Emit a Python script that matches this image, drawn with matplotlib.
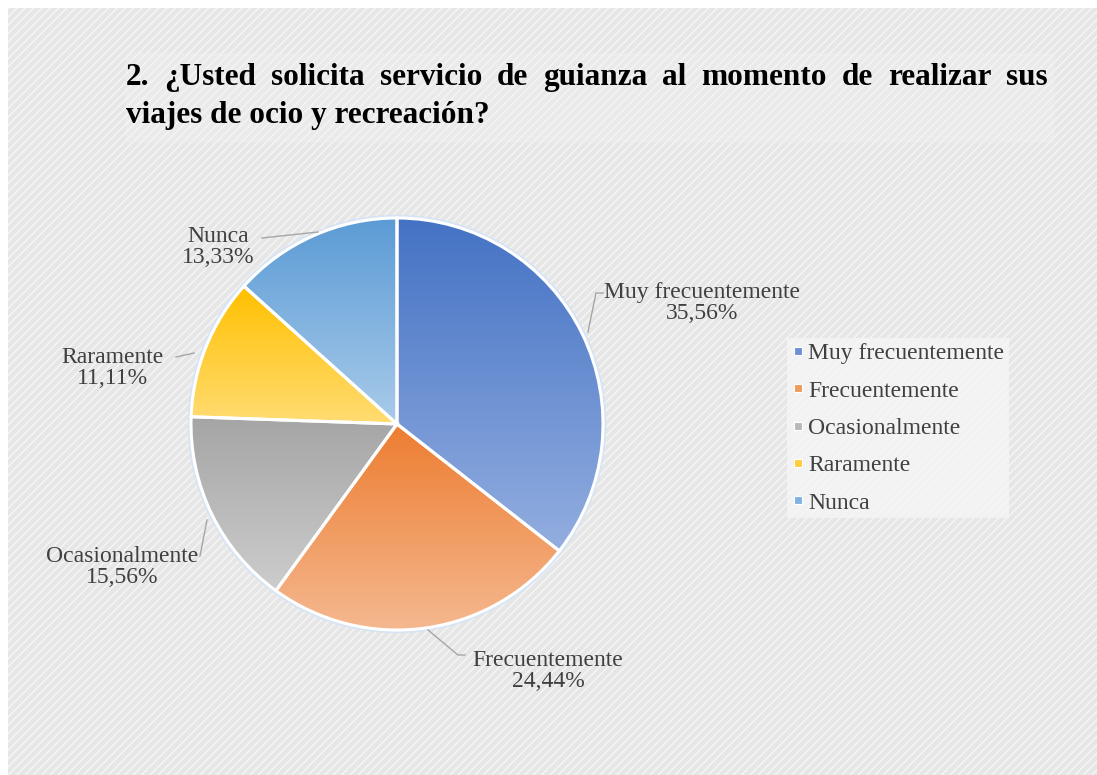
import numpy as np
import matplotlib.pyplot as plt
from matplotlib.patches import Rectangle, Circle
from matplotlib.colors import LinearSegmentedColormap
from matplotlib.lines import Line2D

categorias = ['Muy frecuentemente', 'Frecuentemente', 'Ocasionalmente', 'Raramente', 'Nunca']
porcentajes = [35.56, 24.44, 15.56, 11.11, 13.33]
etiquetas_pct = ['35,56%', '24,44%', '15,56%', '11,11%', '13,33%']
color_oscuro = ['#4472c4', '#ed7d31', '#a5a5a5', '#ffc000', '#5b9bd5']
color_claro = ['#93aee0', '#f5b88f', '#cdcdcd', '#ffdc73', '#a9cbea']
color_leyenda = ['#6f8fd3', '#f09a5e', '#b9b9b9', '#ffcd40', '#7fb2e0']

titulo_1 = '2. ¿Usted solicita servicio de guianza al momento de realizar sus'
titulo_2 = 'viajes de ocio y recreación?'

W, H = 1097, 775
serif = ['Liberation Serif', 'DejaVu Serif']
plt.rcParams['hatch.linewidth'] = 1.0

fig = plt.figure(figsize=(W / 100, H / 100), dpi=100, facecolor='white')
ax = fig.add_axes([0, 0, 1, 1])

# fondo gris rayado
ax.add_patch(Rectangle((8, 0), W - 8, H - 8, facecolor='#e6e6e6', edgecolor='#f6f6f6',
                       hatch='////', lw=0, zorder=0))
# cajas claras detrás del título y la leyenda
ax.add_patch(Rectangle((125, H - 143), 930, 90, facecolor='#f3f3f3', edgecolor='none',
                       alpha=0.35, zorder=0.5))

cx, cy, R = 397, H - 424, 206
ax.add_patch(Circle((cx, cy), R + 1.5, facecolor='none', edgecolor='#d6e4f5', lw=2.5, zorder=0.8))
wedges, _ = ax.pie(porcentajes, center=(cx, cy), radius=R, startangle=90, counterclock=False,
                   colors=color_oscuro, wedgeprops=dict(edgecolor='white', linewidth=2.2))

# degradado vertical en cada porción
grad = np.linspace(0, 1, 256).reshape(-1, 1)
for w, c1, c2 in zip(wedges, color_oscuro, color_claro):
    ang = np.radians(np.linspace(w.theta1, w.theta2, 200))
    xs = np.concatenate([[cx], cx + R * np.cos(ang)])
    ys = np.concatenate([[cy], cy + R * np.sin(ang)])
    cmap = LinearSegmentedColormap.from_list('g', [c2, c1])
    im = ax.imshow(grad, cmap=cmap, extent=(xs.min(), xs.max(), ys.min(), ys.max()),
                   origin='lower', aspect='auto', zorder=1)
    im.set_clip_path(w)
    w.set_facecolor('none')
    w.set_zorder(2)

# líneas guía y etiquetas
lineas = [
    [(603, 293), (596, 293), (588, 332)],
    [(465, 655), (458, 655), (428, 630)],
    [(200, 556), (207, 520)],
    [(176, 357), (194, 353)],
    [(262, 238), (318, 232)],
]
pos_etq = [(702, 303), (548, 671), (122, 567), (112, 368), (218, 247)]
for cat, pct, ln, (tx, ty) in zip(categorias, etiquetas_pct, lineas, pos_etq):
    px = [p[0] for p in ln]
    py = [H - p[1] for p in ln]
    ax.plot(px, py, color='#a6a6a6', lw=1, zorder=3)
    ax.text(tx, H - ty, f'{cat}\n{pct}', ha='center', va='center', fontsize=17,
            family=serif, color='#404040', linespacing=0.95, zorder=4)

# leyenda
handles = [Line2D([], [], marker='s', ls='none', markersize=6, markerfacecolor=c,
                  markeredgecolor='white', markeredgewidth=0.8)
           for c in color_leyenda]
leg = ax.legend(handles, categorias, loc='upper left', bbox_to_anchor=(787 / W, 1 - 338 / H),
                prop=dict(family=serif, size=17), labelcolor='#404040', frameon=True,
                facecolor='#f5f5f5', edgecolor='none', fancybox=False, framealpha=0.85,
                handlelength=0.5, handletextpad=0.2, labelspacing=0.67, borderpad=0.2,
                borderaxespad=0)

# título justificado
tfont = dict(family=serif, size=22.5, weight='bold', color='black')
fig.canvas.draw()
rend = fig.canvas.get_renderer()
palabras = titulo_1.split(' ')
anchos = []
for p in palabras:
    t = ax.text(0, 0, p, **tfont)
    bb = t.get_window_extent(rend)
    anchos.append(bb.width)
    t.remove()
x0, x1 = 126, 1048
hueco = (x1 - x0 - sum(anchos)) / (len(palabras) - 1)
x = x0
for p, a in zip(palabras, anchos):
    ax.text(x, H - 85, p, ha='left', va='baseline', **tfont)
    x += a + hueco
ax.text(x0, H - 123, titulo_2, ha='left', va='baseline', **tfont)

ax.set_xlim(0, W)
ax.set_ylim(0, H)
ax.set_aspect('auto')
ax.axis('off')
fig.savefig('out.png', dpi=100, facecolor='white')
